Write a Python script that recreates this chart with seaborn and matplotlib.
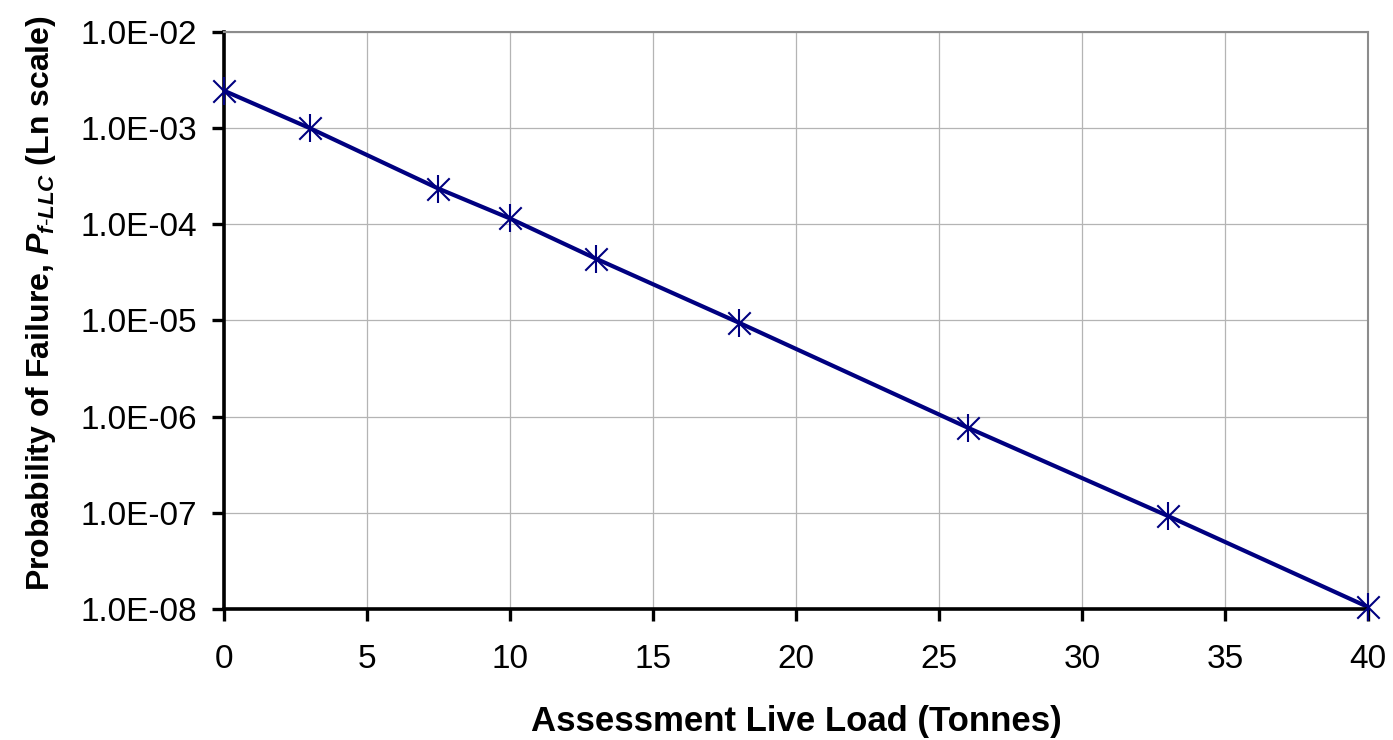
import seaborn as sns
import matplotlib.pyplot as plt
import matplotlib.ticker as mticker
import numpy as np
import pandas as pd

# values
live_load = [0, 3, 7.5, 10, 13, 18, 26, 33, 40]
prob_failure = [2.45e-3, 1.0e-3, 2.35e-4, 1.15e-4, 4.4e-5, 9.5e-6, 7.7e-7, 9.3e-8, 1.05e-8]
x_ticks = [0, 5, 10, 15, 20, 25, 30, 35, 40]
y_ticks = [1e-8, 1e-7, 1e-6, 1e-5, 1e-4, 1e-3, 1e-2]

df = pd.DataFrame({"load": live_load, "pf": prob_failure})

sns.set_theme(style="white")
plt.rcParams['font.family'] = ['Liberation Sans', 'DejaVu Sans']
plt.rcParams['mathtext.fontset'] = 'custom'
plt.rcParams['mathtext.bfit'] = 'Liberation Sans:italic:bold'
plt.rcParams['mathtext.bf'] = 'Liberation Sans:bold'
plt.rcParams['mathtext.rm'] = 'Liberation Sans'
plt.rcParams['text.color'] = 'black'
plt.rcParams['axes.labelcolor'] = 'black'
plt.rcParams['xtick.color'] = 'black'
plt.rcParams['ytick.color'] = 'black'

fig = plt.figure(figsize=(13.93, 7.40), dpi=100)
ax = fig.add_axes([0.1608, 0.177, 0.8212, 0.7798])

navy = "#000080"
sns.lineplot(data=df, x="load", y="pf", ax=ax, color=navy, linewidth=3.0)
# Excel-style star marker: an x plus a vertical bar
sns.scatterplot(data=df, x="load", y="pf", ax=ax, marker="x", s=260,
                color=navy, linewidth=1.5, zorder=5, clip_on=False)
sns.scatterplot(data=df, x="load", y="pf", ax=ax, marker="|", s=400,
                color=navy, linewidth=1.5, zorder=5, clip_on=False)

ax.set_yscale("log")
ax.set_xlim(0, 40)
ax.set_ylim(1e-8, 1e-2)
ax.set_xticks(x_ticks)
ax.set_yticks(y_ticks)
ax.yaxis.set_minor_locator(mticker.NullLocator())
ax.yaxis.set_major_formatter(mticker.FuncFormatter(
    lambda v, p: "%.1fE-%02d" % (1.0, -int(round(np.log10(v))))))
ax.xaxis.set_major_formatter(mticker.FuncFormatter(lambda v, p: "%d" % v))

ax.grid(True, color="#b4b4b4", linewidth=0.9)
ax.set_axisbelow(True)

for side in ["left", "bottom"]:
    ax.spines[side].set_color("black")
    ax.spines[side].set_linewidth(2.6)
for side in ["top", "right"]:
    ax.spines[side].set_color("#8c8c8c")
    ax.spines[side].set_linewidth(1.5)

ax.tick_params(axis="both", which="major", direction="out", length=8.5,
               width=2.4, color="black", labelsize=24,
               left=True, bottom=True)
ax.tick_params(axis="y", pad=11)
ax.tick_params(axis="x", pad=17)

ax.set_xlabel("Assessment Live Load (Tonnes)", fontsize=25, fontweight="bold",
              labelpad=21)
ax.set_ylabel(r"Probability of Failure, $\mathbfit{P}_{\mathbfit{f}\mathbf{\text{-}}\mathbfit{LLC}}$ (Ln scale)",
              fontsize=23, fontweight="bold", labelpad=12)
ax.yaxis.set_label_coords(-0.145, 0.53)

fig.savefig("out.png", dpi=100)
